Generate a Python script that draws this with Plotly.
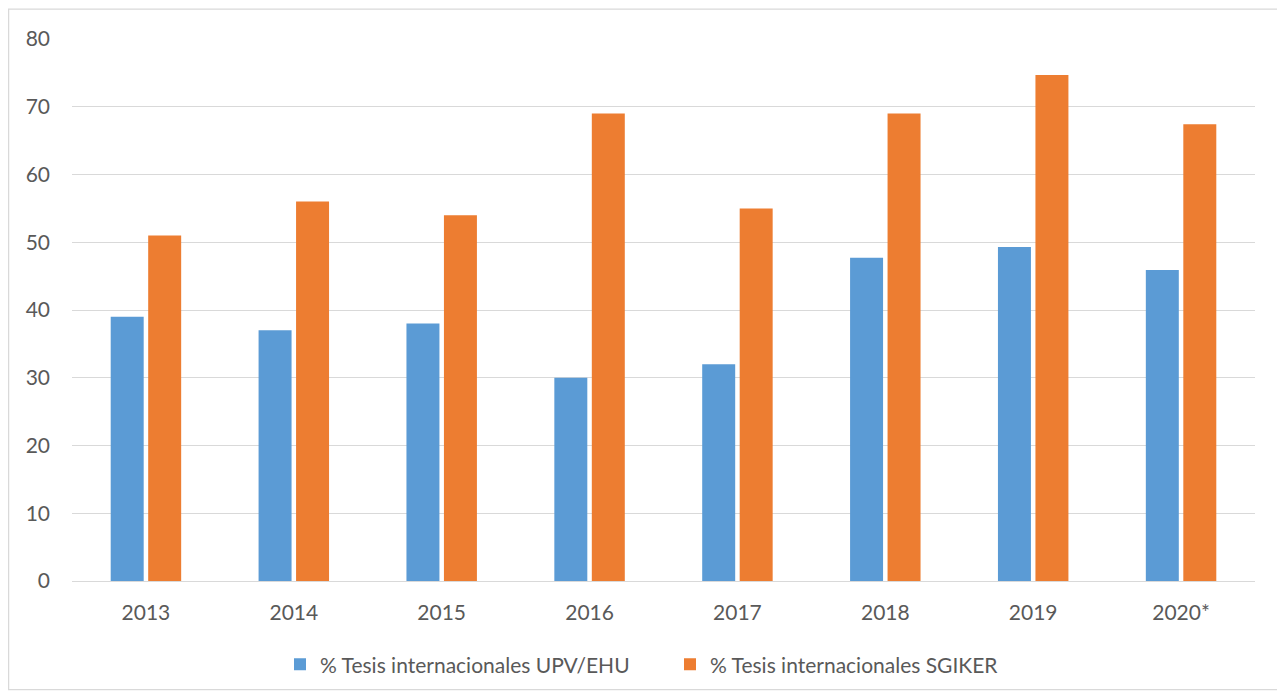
import plotly.graph_objects as go

years = ["2013", "2014", "2015", "2016", "2017", "2018", "2019", "2020*"]
upv_ehu = [39, 37, 38, 30, 32, 47.7, 49.3, 45.9]
sgiker = [51, 56, 54, 69, 55, 69, 74.7, 67.4]
y_ticks = [0, 10, 20, 30, 40, 50, 60, 70, 80]

FONT = "Lato"
TXT = "#595959"

fig = go.Figure()
fig.add_trace(go.Bar(x=years, y=upv_ehu, name="% Tesis internacionales UPV/EHU",
                     marker=dict(color="#5B9BD5", line=dict(width=0))))
fig.add_trace(go.Bar(x=years, y=sgiker, name="% Tesis internacionales SGIKER",
                     marker=dict(color="#ED7D31", line=dict(width=0))))

# page has an 8px body margin; work in figure coordinates
OFF = 8
W, H = 1285 - OFF, 697 - OFF
L, R, T, B = 72 - OFF, W - (1255 - OFF), 39 - OFF, H - (583 - OFF)
pw = W - L - R
ph = H - T - B

def py(page_y):
    return (T + ph - (page_y - OFF)) / ph

def px(page_x):
    return ((page_x - OFF) - L) / pw

fig.update_layout(
    width=W, height=H,
    margin=dict(l=L, r=R, t=T, b=B),
    paper_bgcolor="white", plot_bgcolor="white",
    barmode="group", bargap=0.493, bargroupgap=0.12,
    font=dict(family=FONT, color=TXT, size=21),
    showlegend=True,
    legend=dict(orientation="h", x=px(294 - 14), xanchor="left", y=py(667),
                yanchor="middle", font=dict(size=21, color=TXT, family=FONT),
                traceorder="normal", entrywidth=345, entrywidthmode="pixels"),
    xaxis=dict(showgrid=False, showline=False, ticks="", tickfont=dict(size=21, color=TXT),
               ticklabelstandoff=17),
    yaxis=dict(range=[0, 80], tickvals=y_ticks, showgrid=True, gridcolor="#D9D9D9",
               gridwidth=1.3, zeroline=True, zerolinecolor="#D9D9D9", zerolinewidth=1.3,
               showline=False, ticks="", tickfont=dict(size=21, color=TXT),
               ticklabelstandoff=21),
    shapes=[dict(type="rect", xref="paper", yref="paper",
                 x0=px(8.6), x1=px(1279),
                 y0=py(692), y1=py(9),
                 line=dict(color="#D9D9D9", width=1.3), fillcolor="rgba(0,0,0,0)")],
)

fig.write_html("out.html")
